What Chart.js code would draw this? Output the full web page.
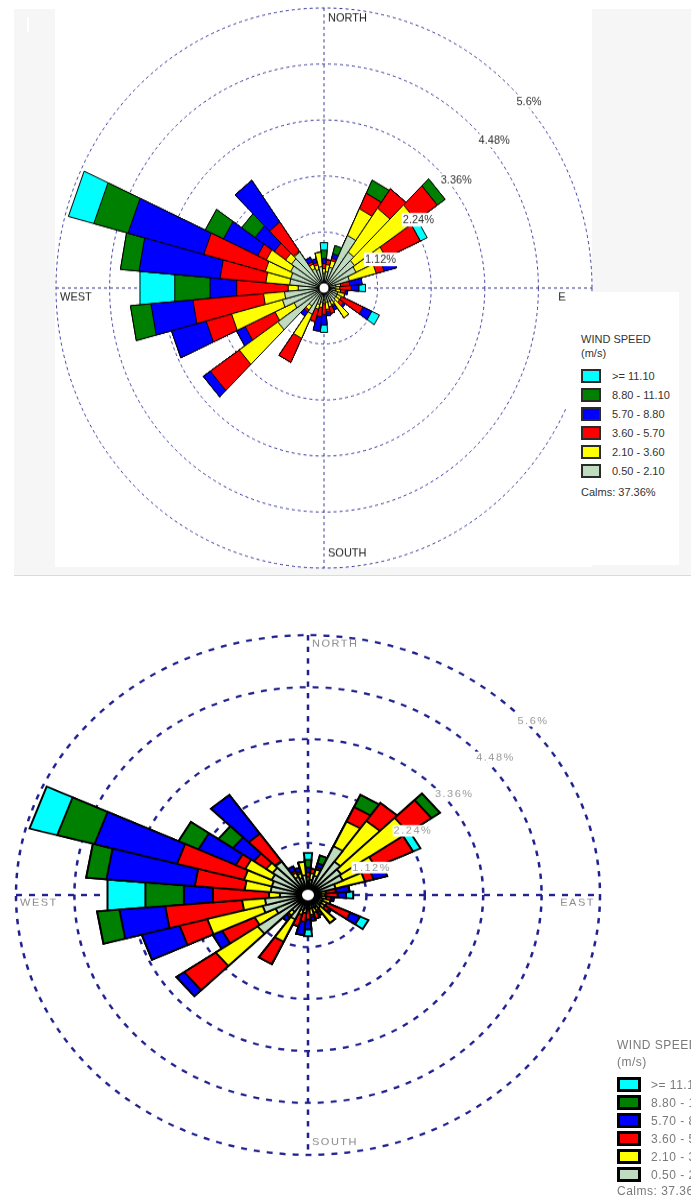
<!DOCTYPE html>
<html>
<head>
<meta charset="utf-8">
<title>Wind rose</title>
<script src="https://cdn.jsdelivr.net/npm/chart.js@4.4.0/dist/chart.umd.min.js"></script>
<style>
  html, body { margin: 0; padding: 0; background: #fff; }
  body {
    position: relative;
    width: 691px;
    height: 1199px;
    overflow: hidden;
    font-family: "Liberation Sans", Arial, sans-serif;
  }
  .abs { position: absolute; }
  #frame { left: 14px; top: 9px; width: 677px; height: 566px; background: #f6f6f6; border-bottom: 1px solid #ddd8e4; }
  #plotArea { left: 55px; top: 9px; width: 537px; height: 558px; background: #fff; }
  #tick { left: 27px; top: 17px; width: 2px; height: 15px; background: #fff; }
  #legendBoxTop { left: 566px; top: 292px; width: 113px; height: 273px; background: #fff; z-index: 2; }
  canvas { position: absolute; z-index: 1; }
  #roseTop { left: 36px; top: 0; transform: scale(1, 1.045); transform-origin: 288px 288px; }
  #roseBottom { left: -4px; top: 583px; transform: scale(1, 0.89); transform-origin: 312px 312px; }
  #legendTop, #legendBottom { z-index: 3; }
  .lg-text { position: absolute; line-height: 12px; white-space: nowrap; }
  .lg-swatch { position: absolute; box-sizing: border-box; border-style: solid; }
  #legendTop .lg-text { font-size: 11px; color: #333; }
  #legendTop .lg-swatch { border-color: #2a2a2a; }
  #legendBottom .lg-text { font-size: 12px; color: #7a7a7a; letter-spacing: 0.5px; }
  #legendBottom .lg-swatch { border-color: #000; }
</style>
</head>
<body>
<div id="frame" class="abs"></div>
<div id="plotArea" class="abs"></div>
<div id="tick" class="abs"></div>
<canvas id="roseTop"></canvas>
<div id="legendBoxTop" class="abs"></div>
<div id="legendTop" class="abs" style="left:0;top:0"></div>
<canvas id="roseBottom"></canvas>
<div id="legendBottom" class="abs" style="left:0;top:0"></div>

<script>
// Wind directions (degrees, blowing from), one sector every 10 degrees
const directions = [0, 10, 20, 30, 40, 50, 60, 70, 80, 90, 100, 110,
  120, 130, 140, 150, 160, 170, 180, 190, 200, 210, 220, 230,
  240, 250, 260, 270, 280, 290, 300, 310, 320, 330, 340, 350];

// Speed classes (m/s), innermost first
const speedLabels = ["0.50 - 2.10", "2.10 - 3.60", "3.60 - 5.70", "5.70 - 8.80", "8.80 - 11.10", ">= 11.10"];
const speedColors = ["#c0dcc0", "#ffff00", "#ff0000", "#0000ff", "#008000", "#00ffff"];

// Ring values (%) and compass names
const ringTicks = [1.12, 2.24, 3.36, 4.48, 5.6];
const compassNames = ["NORTH", "EAST", "SOUTH", "WEST"];
const calmsPct = 37.36;

// Frequency (%) per direction for each speed class
const freq050_210 = [0.29, 0.33, 0.43, 1.16, 0.88, 0.78, 0.74, 0.55, 0.25, 0.20, 0.25, 0.30,
  0.30, 0.30, 0.34, 0.29, 0.29, 0.29, 0.24, 0.29, 0.34, 0.58, 0.44, 1.18,
  0.69, 0.90, 0.83, 0.54, 0.72, 0.72, 0.77, 0.83, 0.88, 0.43, 0.38, 0.43];
const freq210_360 = [0.10, 0.14, 0.14, 0.59, 1.07, 1.57, 0.69, 0.58, 0.10, 0.13, 0.10, 0.15,
  0.10, 0.10, 0.39, 0.08, 0.10, 0.14, 0.07, 0.10, 0.10, 0.53, 0.10, 0.98,
  0.44, 1.10, 0.44, 0.21, 0.50, 0.55, 0.56, 0.15, 0.02, 0.10, 0.10, 0.29];
const freq360_570 = [0.10, 0.10, 0.05, 0.34, 0.47, 0.54, 0.79, 0.17, 0.19, 0.24, 0.10, 0.00,
  0.50, 0.10, 0.00, 0.04, 0.14, 0.05, 0.22, 0.19, 0.26, 0.53, 0.05, 0.74,
  0.69, 0.55, 1.48, 1.08, 0.96, 1.33, 0.20, 0.29, 0.71, 0.05, 0.05, 0.00];
const freq570_880 = [0.10, 0.00, 0.09, 0.00, 0.00, 0.00, 0.00, 0.27, 0.26, 0.16, 0.05, 0.00,
  0.20, 0.05, 0.00, 0.08, 0.00, 0.08, 0.21, 0.29, 0.00, 0.00, 0.10, 0.18,
  0.20, 0.75, 0.88, 0.56, 1.70, 1.64, 0.79, 0.49, 1.02, 0.10, 0.08, 0.00];
const freq880_1110 = [0.17, 0.00, 0.17, 0.29, 0.00, 0.20, 0.00, 0.00, 0.00, 0.00, 0.00, 0.00,
  0.00, 0.00, 0.00, 0.00, 0.00, 0.00, 0.00, 0.00, 0.00, 0.00, 0.00, 0.00,
  0.00, 0.00, 0.43, 0.74, 0.39, 0.74, 0.42, 0.34, 0.00, 0.00, 0.00, 0.00];
const freq1110up = [0.15, 0.00, 0.00, 0.00, 0.00, 0.00, 0.16, 0.00, 0.00, 0.14, 0.00, 0.00,
  0.18, 0.00, 0.00, 0.00, 0.00, 0.00, 0.15, 0.00, 0.00, 0.00, 0.00, 0.00,
  0.00, 0.00, 0.00, 0.73, 0.00, 0.55, 0.00, 0.00, 0.00, 0.00, 0.00, 0.00];

const classFreqs = [freq050_210, freq210_360, freq360_570, freq570_880, freq880_1110, freq1110up];

// polar area has no stacking, so each class is drawn as the running total,
// the smaller totals sitting on top of the bigger ones
function stackedTotals() {
  const run = directions.map(() => 0);
  return classFreqs.map((arr) => {
    arr.forEach((v, i) => (run[i] += v));
    return run.map((v) => +v.toFixed(2));
  });
}
const stacked = stackedTotals();

// Compass cross, calm circle, ring and compass labels
const roseDecor = {
  id: "roseDecor",
  beforeDatasetsDraw(chart, args, o) {
    const s = chart.scales.r;
    const ctx = chart.ctx;
    const x = s.xCenter, y = s.yCenter, r = s.drawingArea;
    ctx.save();
    ctx.strokeStyle = o.gridColor;
    ctx.lineWidth = o.gridWidth;
    ctx.setLineDash(o.dash);
    ctx.beginPath();
    ctx.moveTo(x, y - r);
    ctx.lineTo(x, y + r);
    ctx.moveTo(x - r, y);
    ctx.lineTo(x + r, y);
    ctx.stroke();
    ctx.restore();
  },
  afterDatasetsDraw(chart, args, o) {
    const s = chart.scales.r;
    const ctx = chart.ctx;
    const x = s.xCenter, y = s.yCenter, r = s.drawingArea;
    ctx.save();

    // calms circle
    ctx.beginPath();
    ctx.arc(x, y, o.calmR, 0, Math.PI * 2);
    ctx.fillStyle = "#fff";
    ctx.fill();
    ctx.lineWidth = o.calmW;
    ctx.strokeStyle = "#000";
    ctx.stroke();

    ctx.font = o.font;
    ctx.textBaseline = "middle";
    ctx.textAlign = "left";
    if ("letterSpacing" in ctx) ctx.letterSpacing = o.spacing;

    // ring labels, on a white backdrop
    ringTicks.forEach((v) => {
      const d = s.getDistanceFromCenterForValue(v);
      const tx = x + d * Math.SQRT1_2 + 3;
      const ty = y - d * Math.SQRT1_2 + 11;
      const txt = v + "%";
      const w = ctx.measureText(txt).width;
      ctx.fillStyle = "#fff";
      ctx.fillRect(tx - 1, ty - 7, w + 3, 13);
      ctx.fillStyle = o.ringText;
      ctx.fillText(txt, tx, ty);
    });

    // compass labels
    ctx.fillStyle = o.compassText;
    ctx.fillText(compassNames[0], x + 4, y - r + 10);
    ctx.fillText(compassNames[2], x + 4, y + r - 14);
    ctx.fillText(compassNames[3], x - r + 4, y + 9);
    ctx.textAlign = "right";
    ctx.fillText(compassNames[1], x + r - 5, y + 9);
    ctx.restore();
  },
};

function makeRose(canvasId, look) {
  const canvas = document.getElementById(canvasId);
  canvas.width = look.size;
  canvas.height = look.size;
  return new Chart(canvas, {
    type: "polarArea",
    data: {
      labels: directions.map((d) => d + "°"),
      datasets: stacked.map((vals, k) => ({
        label: speedLabels[k],
        data: vals,
        backgroundColor: speedColors[k],
        borderColor: "#000",
        borderWidth: look.barBorder,
        borderJoinStyle: "miter",
        circular: false,
      })),
    },
    options: {
      responsive: false,
      devicePixelRatio: 1,
      animation: false,
      events: [],
      layout: { padding: look.pad },
      scales: {
        r: {
          min: 0,
          max: ringTicks[ringTicks.length - 1],
          startAngle: -5, // sectors centred on their direction
          afterBuildTicks: (scale) => {
            scale.ticks = [0, ...ringTicks].map((v) => ({ value: v }));
          },
          ticks: { display: false },
          angleLines: { display: false },
          pointLabels: { display: false },
          grid: { circular: true, color: look.gridColor, lineWidth: look.gridWidth },
          border: { dash: look.dash },
        },
      },
      plugins: {
        legend: { display: false },
        tooltip: { enabled: false },
        roseDecor: look,
      },
    },
    plugins: [roseDecor],
  });
}

function buildLegend(boxId, lg) {
  const box = document.getElementById(boxId);
  const add = (cls, text, css) => {
    const d = document.createElement("div");
    d.className = cls;
    if (text) d.textContent = text;
    Object.assign(d.style, css);
    box.appendChild(d);
  };
  add("lg-text", "WIND SPEED", { left: lg.x + "px", top: lg.titleY + "px" });
  add("lg-text", "(m/s)", { left: lg.x + "px", top: lg.unitY + "px" });
  for (let i = 0; i < speedLabels.length; i++) {
    const k = speedLabels.length - 1 - i; // strongest class first
    const top = lg.rowY + i * lg.step;
    add("lg-swatch", "", {
      left: lg.x + "px",
      top: top + "px",
      width: lg.swW + "px",
      height: lg.swH + "px",
      background: speedColors[k],
      borderWidth: lg.swB + "px",
    });
    add("lg-text", speedLabels[k], { left: lg.textX + "px", top: top + lg.swH / 2 - 6 + "px" });
  }
  add("lg-text", "Calms: " + calmsPct.toFixed(2) + "%", { left: lg.x + "px", top: lg.calmsY + "px" });
}

makeRose("roseTop", {
  size: 576,
  pad: 20,
  gridColor: "#3a3a9c",
  gridWidth: 1,
  dash: [3, 3],
  barBorder: 1,
  calmR: 5,
  calmW: 1,
  font: '11px "Liberation Sans", Arial, sans-serif',
  spacing: "0px",
  ringText: "#333",
  compassText: "#222",
});

makeRose("roseBottom", {
  size: 624,
  pad: 20,
  gridColor: "#1f1f8f",
  gridWidth: 2.5,
  dash: [6, 7],
  barBorder: 2,
  calmR: 7,
  calmW: 2,
  font: '11px "Liberation Sans", Arial, sans-serif',
  spacing: "1.5px",
  ringText: "#9a9a9a",
  compassText: "#8a8a8a",
});

buildLegend("legendTop", {
  x: 581, titleY: 333, unitY: 347, rowY: 369, step: 19,
  swW: 20, swH: 14, swB: 2, textX: 612, calmsY: 486,
});

buildLegend("legendBottom", {
  x: 617, titleY: 1039, unitY: 1056, rowY: 1077, step: 18,
  swW: 24, swH: 15, swB: 3, textX: 651, calmsY: 1185,
});
</script>
</body>
</html>
